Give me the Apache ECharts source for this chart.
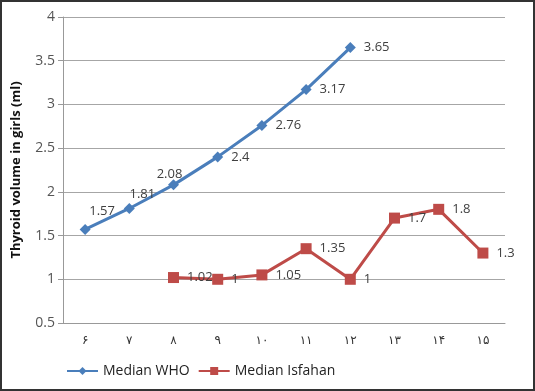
<!DOCTYPE html>
<html>
<head>
<meta charset="utf-8">
<script src="https://cdn.jsdelivr.net/npm/echarts@6/dist/echarts.min.js"></script>
<style>
  html, body { margin: 0; padding: 0; background: #fff; }
  #chart { width: 535px; height: 391px; box-sizing: border-box; border: 2px solid #333; }
</style>
</head>
<body>
<div id="chart"></div>
<script>
// ages, Persian digits as on the original axis
const ages = ['۶', '۷', '۸', '۹', '۱۰', '۱۱', '۱۲', '۱۳', '۱۴', '۱۵'];
const medianWHO = [1.57, 1.81, 2.08, 2.4, 2.76, 3.17, 3.65, null, null, null];
const medianIsfahan = [null, null, 1.02, 1, 1.05, 1.35, 1, 1.7, 1.8, 1.3];
const yTicks = [0.5, 4, 0.5]; // min, max, step

// the first three WHO labels sit above the line, not to the right
const whoLabelOffsets = [[17, 2], [13, 6], [-4, 9]];

const chart = echarts.init(document.getElementById('chart'));

const labelFont = { color: '#404040', fontSize: 13, fontFamily: 'Open Sans' };

const option = {
  animation: false,
  textStyle: { fontFamily: 'Open Sans' },
  grid: { left: 61, right: 28, top: 15, bottom: 66 },
  legend: {
    left: 59,
    top: 357,
    itemWidth: 31,
    itemHeight: 10,
    itemGap: 8,
    textStyle: { color: '#222', fontSize: 14, fontFamily: 'Open Sans' },
    data: ['Median WHO', 'Median Isfahan']
  },
  xAxis: {
    type: 'category',
    data: ages,
    boundaryGap: true,
    axisLine: { lineStyle: { color: '#999' } },
    axisTick: { show: false },
    axisLabel: { color: '#333', fontSize: 12, margin: 12, fontFamily: 'DejaVu Sans' }
  },
  yAxis: {
    type: 'value',
    min: yTicks[0],
    max: yTicks[1],
    interval: yTicks[2],
    name: 'Thyroid volume in girls (ml)',
    nameLocation: 'middle',
    nameGap: 40,
    nameTextStyle: { color: '#111', fontSize: 13, fontWeight: 'bold', fontFamily: 'Open Sans' },
    axisLine: { show: true, lineStyle: { color: '#999' } },
    axisTick: { show: true, length: 5, lineStyle: { color: '#999' } },
    axisLabel: { color: '#555', fontSize: 14, margin: 8, fontFamily: 'Open Sans' },
    splitLine: { lineStyle: { color: '#a6a6a6' } }
  },
  series: [
    {
      name: 'Median WHO',
      type: 'line',
      data: medianWHO.map((v, i) => {
        if (i < whoLabelOffsets.length) {
          return { value: v, label: { position: 'top', offset: whoLabelOffsets[i] } };
        }
        return v;
      }),
      symbol: 'diamond',
      symbolSize: 11,
      lineStyle: { color: '#4a7ebb', width: 3 },
      itemStyle: { color: '#4a7ebb' },
      label: { show: true, position: 'right', distance: 8, ...labelFont }
    },
    {
      name: 'Median Isfahan',
      type: 'line',
      data: medianIsfahan,
      symbol: 'rect',
      symbolSize: 11,
      lineStyle: { color: '#be4b48', width: 3 },
      itemStyle: { color: '#be4b48' },
      label: { show: true, position: 'right', distance: 8, ...labelFont }
    }
  ]
};

chart.setOption(option);
</script>
</body>
</html>
